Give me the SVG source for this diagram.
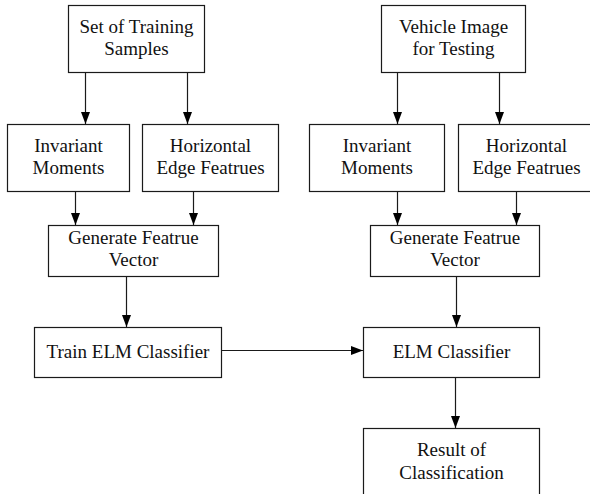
<svg xmlns="http://www.w3.org/2000/svg" width="590" height="494" viewBox="0 0 590 494">
<style>
rect{fill:#fff;stroke:#1a1a1a;stroke-width:1.2}
text{font-family:"Liberation Serif","Times New Roman",serif;font-size:19px;fill:#111;text-anchor:middle}
.c line{stroke:#1a1a1a;stroke-width:1.2;marker-end:url(#ah)}
</style>
<defs>
<marker id="ah" markerUnits="userSpaceOnUse" markerWidth="13" markerHeight="10" refX="12" refY="4.5" orient="auto">
<path d="M0,0 L12,4.5 L0,9 z" fill="#000"/>
</marker>
</defs>
<rect x="0" y="0" width="590" height="494" style="fill:#fff;stroke:none"/>
<g id="n1"><rect x="68.5" y="5.5" width="136" height="67"/><text x="136.5" y="33">Set of Training</text><text x="136.5" y="55">Samples</text></g>
<g id="n2"><rect x="7.5" y="124.5" width="122" height="67"/><text x="68.5" y="152">Invariant</text><text x="68.5" y="174">Moments</text></g>
<g id="n3"><rect x="142.5" y="124.5" width="136" height="67"/><text x="210.5" y="152">Horizontal</text><text x="210.5" y="174">Edge Featrues</text></g>
<g id="n4"><rect x="48.5" y="225.5" width="170" height="51"/><text x="133.5" y="244">Generate Featrue</text><text x="133.5" y="266">Vector</text></g>
<g id="n5"><rect x="34.5" y="327.5" width="187" height="50"/><text x="128" y="358">Train ELM Classifier</text></g>
<g id="n6"><rect x="381.5" y="5.5" width="144" height="67"/><text x="453.5" y="33">Vehicle Image</text><text x="453.5" y="55">for Testing</text></g>
<g id="n7"><rect x="309.5" y="124.5" width="135" height="67"/><text x="377" y="152">Invariant</text><text x="377" y="174">Moments</text></g>
<g id="n8"><rect x="458.5" y="124.5" width="136" height="67"/><text x="526.5" y="152">Horizontal</text><text x="526.5" y="174">Edge Featrues</text></g>
<g id="n9"><rect x="370.5" y="225.5" width="169" height="51"/><text x="455" y="244">Generate Featrue</text><text x="455" y="266">Vector</text></g>
<g id="n10"><rect x="363.5" y="327.5" width="176" height="50"/><text x="451.5" y="358">ELM Classifier</text></g>
<g id="n11"><rect x="363.5" y="428.5" width="176" height="80"/><text x="451.5" y="456">Result of</text><text x="451.5" y="479">Classification</text></g>
<g id="connectors" class="c">
<line x1="85.5" y1="72" x2="85.5" y2="124"/>
<line x1="187.5" y1="72" x2="187.5" y2="124"/>
<line x1="75.5" y1="191" x2="75.5" y2="225"/>
<line x1="193.5" y1="191" x2="193.5" y2="225"/>
<line x1="126.5" y1="276" x2="126.5" y2="327"/>
<line x1="397.5" y1="72" x2="397.5" y2="124"/>
<line x1="499.5" y1="72" x2="499.5" y2="124"/>
<line x1="397.5" y1="191" x2="397.5" y2="225"/>
<line x1="516.5" y1="191" x2="516.5" y2="225"/>
<line x1="456.5" y1="276" x2="456.5" y2="327"/>
<line x1="221" y1="350.5" x2="363" y2="350.5"/>
<line x1="455.5" y1="377" x2="455.5" y2="428"/>
</g>
</svg>
